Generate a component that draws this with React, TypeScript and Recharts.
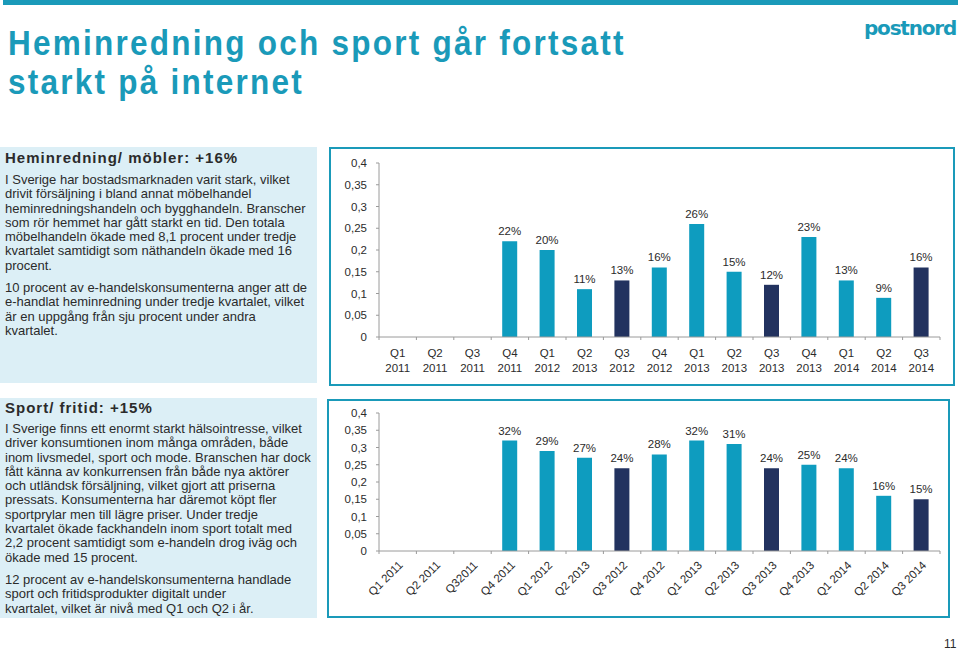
import React from "react";
import { BarChart, Bar, XAxis, YAxis, Cell, LabelList } from "recharts";

const topCategories = ["Q1 2011","Q2 2011","Q3 2011","Q4 2011","Q1 2012","Q2 2013","Q3 2012","Q4 2012","Q1 2013","Q2 2013","Q3 2013","Q4 2013","Q1 2014","Q2 2014","Q3 2014"];
const topValues: (number | null)[] = [null,null,null,0.22,0.20,0.11,0.13,0.16,0.26,0.15,0.12,0.23,0.13,0.09,0.16];
const bottomCategories = ["Q1 2011","Q2 2011","Q32011","Q4 2011","Q1 2012","Q2 2013","Q3 2012","Q4 2012","Q1 2013","Q2 2013","Q3 2013","Q4 2013","Q1 2014","Q2 2014","Q3 2014"];
const bottomValues: (number | null)[] = [null,null,null,0.32,0.29,0.27,0.24,0.28,0.32,0.31,0.24,0.25,0.24,0.16,0.15];
const highlighted = [false,false,false,false,false,false,true,false,false,false,true,false,false,false,true];
const yTicks = [0,0.05,0.1,0.15,0.2,0.25,0.3,0.35,0.4];

const LIGHT = "#0e9cbf";
const DARK = "#22325f";
const TEAL = "#1a9ab9";
const BOX_BG = "#dceff6";
const AXIS = "#9a9a9a";
const TXT = "#2b2b2b";
const FONT = "'Liberation Sans', Arial, sans-serif";

const topData = topCategories.map((c, i) => ({ c, v: topValues[i], hl: highlighted[i] }));
const bottomData = bottomCategories.map((c, i) => ({ c, v: bottomValues[i], hl: highlighted[i] }));

const fmtY = (v: number) => String(v).replace(".", ",");
const fmtPct = (v: any) => (v == null ? "" : Math.round(v * 100) + "%");

const BAND = 37.4;

const TwoLineTick = (props: any) => {
  const { x, y, payload, index } = props;
  const parts = String(payload.value).split(" ");
  return (
    <g>
      <line x1={x - BAND / 2} y1={y} x2={x - BAND / 2} y2={y + 3} stroke={AXIS} />
      {index === topCategories.length - 1 && (
        <line x1={x + BAND / 2} y1={y} x2={x + BAND / 2} y2={y + 3} stroke={AXIS} />
      )}
      <text x={x} y={y + 20} textAnchor="middle" fontSize={11.5} fill={TXT} fontFamily={FONT}>
        {parts[0]}
      </text>
      <text x={x} y={y + 35} textAnchor="middle" fontSize={11.5} fill={TXT} fontFamily={FONT}>
        {parts[1]}
      </text>
    </g>
  );
};

const RotTick = (props: any) => {
  const { x, y, payload, index } = props;
  return (
    <g>
      <line x1={x - BAND / 2} y1={y} x2={x - BAND / 2} y2={y + 3} stroke={AXIS} />
      {index === bottomCategories.length - 1 && (
        <line x1={x + BAND / 2} y1={y} x2={x + BAND / 2} y2={y + 3} stroke={AXIS} />
      )}
      <g transform={`translate(${x + 3},${y + 12})`}>
        <text transform="rotate(-45)" textAnchor="end" dy="0.35em" fontSize={11.5} fill={TXT} fontFamily={FONT}>
          {payload.value}
        </text>
      </g>
    </g>
  );
};

const para: React.CSSProperties = { whiteSpace: "nowrap", lineHeight: "14.3px" };

export default function App() {
  return (
    <div style={{ position: "absolute", left: 0, top: 0, width: 960, height: 651, background: "#fff", fontFamily: FONT, overflow: "hidden" }}>
      <style>{`body{margin:0}`}</style>
      {/* top band */}
      <div style={{ position: "absolute", left: 3, top: 0, width: 955, height: 5, background: TEAL }} />
      {/* title */}
      <div style={{ position: "absolute", left: 8, top: 23, color: TEAL, fontFamily: FONT, fontWeight: "bold", fontSize: 35, letterSpacing: 2.5, lineHeight: "39px", whiteSpace: "nowrap", transform: "scaleX(0.9)", transformOrigin: "left top" }}>
        <div>Heminredning och sport går fortsatt</div>
        <div>starkt på internet</div>
      </div>
      {/* logo */}
      <div style={{ position: "absolute", left: 864, top: 16, color: TEAL, fontFamily: "'DejaVu Sans', sans-serif", fontWeight: "bold", fontSize: 20, letterSpacing: -1.2 }}>postnord</div>

      {/* top text box */}
      <div style={{ position: "absolute", left: 0, top: 147, width: 317, height: 236, background: BOX_BG, color: TXT, fontSize: 13, boxSizing: "border-box", padding: "2px 5px" }}>
        <div style={{ fontWeight: "bold", fontSize: 15, letterSpacing: 1, lineHeight: "18px", marginBottom: 6 }}>Heminredning/ möbler: +16%</div>
        <div style={para}>
          <div>I Sverige har bostadsmarknaden varit stark, vilket</div>
          <div>drivit försäljning i bland annat möbelhandel</div>
          <div>heminredningshandeln och bygghandeln. Branscher</div>
          <div>som rör hemmet har gått starkt en tid. Den totala</div>
          <div>möbelhandeln ökade med 8,1 procent under tredje</div>
          <div>kvartalet samtidigt som näthandeln ökade med 16</div>
          <div>procent.</div>
        </div>
        <div style={{ ...para, marginTop: 8 }}>
          <div>10 procent av e-handelskonsumenterna anger att de</div>
          <div>e-handlat heminredning under tredje kvartalet, vilket</div>
          <div>är en uppgång från sju procent under andra</div>
          <div>kvartalet.</div>
        </div>
      </div>

      {/* bottom text box */}
      <div style={{ position: "absolute", left: 0, top: 398, width: 317, height: 220, background: BOX_BG, color: TXT, fontSize: 13, boxSizing: "border-box", padding: "1px 5px" }}>
        <div style={{ fontWeight: "bold", fontSize: 15, letterSpacing: 1, lineHeight: "18px", marginBottom: 5 }}>Sport/ fritid: +15%</div>
        <div style={para}>
          <div>I Sverige finns ett enormt starkt hälsointresse, vilket</div>
          <div>driver konsumtionen inom många områden, både</div>
          <div>inom livsmedel, sport och mode. Branschen har dock</div>
          <div>fått känna av konkurrensen från både nya aktörer</div>
          <div>och utländsk försäljning, vilket gjort att priserna</div>
          <div>pressats. Konsumenterna har däremot köpt fler</div>
          <div>sportprylar men till lägre priser. Under tredje</div>
          <div>kvartalet ökade fackhandeln inom sport totalt med</div>
          <div>2,2 procent samtidigt som e-handeln drog iväg och</div>
          <div>ökade med 15 procent.</div>
        </div>
        <div style={{ ...para, marginTop: 8 }}>
          <div>12 procent av e-handelskonsumenterna handlade</div>
          <div>sport och fritidsprodukter digitalt under</div>
          <div>kvartalet, vilket är nivå med Q1 och Q2 i år.</div>
        </div>
      </div>

      {/* top chart box */}
      <div style={{ position: "absolute", left: 329, top: 147, width: 626, height: 239, border: `2px solid ${TEAL}`, boxSizing: "border-box" }} />
      <div style={{ position: "absolute", left: 329, top: 147 }}>
        <BarChart width={626} height={239} data={topData} margin={{ top: 16, right: 15, bottom: 2, left: 10 }} barCategoryGap={0}>
          <YAxis
            domain={[0, 0.4]}
            ticks={yTicks}
            tickFormatter={fmtY}
            width={40}
            axisLine={{ stroke: AXIS }}
            tickLine={{ stroke: AXIS }}
            tickSize={3}
            tickMargin={9}
            tick={{ fontSize: 11.5, fill: TXT, fontFamily: FONT }}
            interval={0}
          />
          <XAxis
            dataKey="c"
            height={47}
            axisLine={{ stroke: AXIS }}
            tickLine={false}
            tickSize={0}
            tickMargin={0}
            interval={0}
            tick={<TwoLineTick />}
          />
          <Bar dataKey="v" barSize={15} isAnimationActive={false}>
            {topData.map((d, i) => (
              <Cell key={i} fill={d.hl ? DARK : LIGHT} />
            ))}
            <LabelList dataKey="v" position="top" offset={6} formatter={fmtPct} style={{ fontSize: 11.5, fill: TXT, fontFamily: FONT }} />
          </Bar>
        </BarChart>
      </div>

      {/* bottom chart box */}
      <div style={{ position: "absolute", left: 327, top: 399, width: 623, height: 219, border: `2px solid ${TEAL}`, boxSizing: "border-box" }} />
      <div style={{ position: "absolute", left: 327, top: 399 }}>
        <BarChart width={623} height={219} data={bottomData} margin={{ top: 14, right: 10, bottom: 0, left: 12 }} barCategoryGap={0}>
          <YAxis
            domain={[0, 0.4]}
            ticks={yTicks}
            tickFormatter={fmtY}
            width={40}
            axisLine={{ stroke: AXIS }}
            tickLine={{ stroke: AXIS }}
            tickSize={3}
            tickMargin={9}
            tick={{ fontSize: 11.5, fill: TXT, fontFamily: FONT }}
            interval={0}
          />
          <XAxis
            dataKey="c"
            height={67}
            axisLine={{ stroke: AXIS }}
            tickLine={false}
            tickSize={0}
            tickMargin={0}
            interval={0}
            tick={<RotTick />}
          />
          <Bar dataKey="v" barSize={15} isAnimationActive={false}>
            {bottomData.map((d, i) => (
              <Cell key={i} fill={d.hl ? DARK : LIGHT} />
            ))}
            <LabelList dataKey="v" position="top" offset={6} formatter={fmtPct} style={{ fontSize: 11.5, fill: TXT, fontFamily: FONT }} />
          </Bar>
        </BarChart>
      </div>

      {/* page number */}
      <div style={{ position: "absolute", left: 944, top: 637, fontSize: 12, color: TXT }}>11</div>
    </div>
  );
}
